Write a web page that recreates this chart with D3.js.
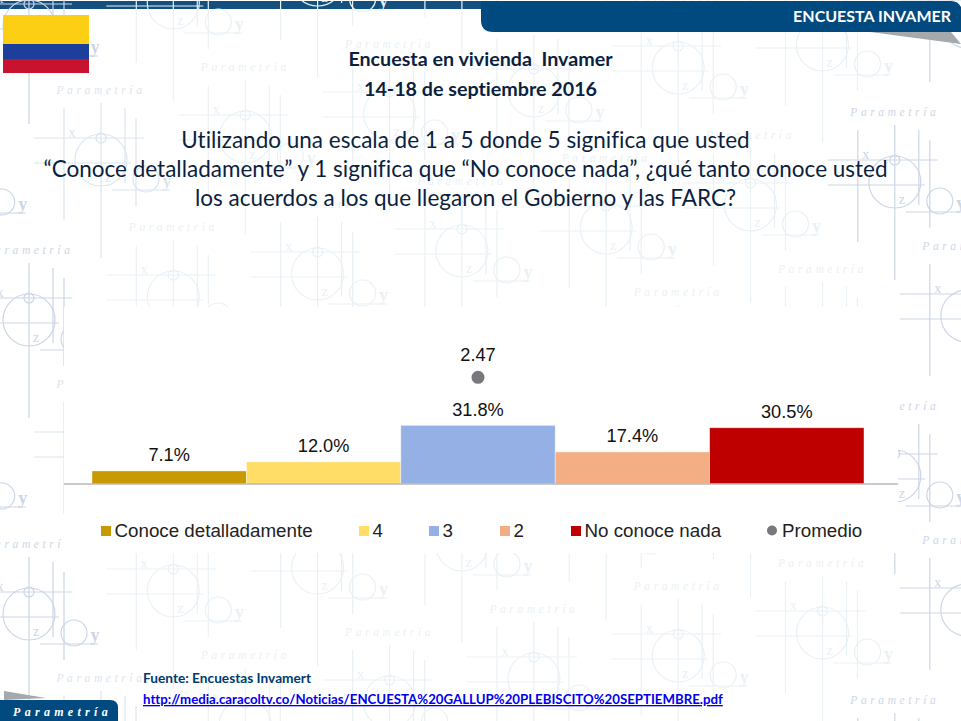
<!DOCTYPE html>
<html>
<head>
<meta charset="utf-8">
<script src="https://cdn.jsdelivr.net/npm/d3@7/dist/d3.min.js"></script>
<style>
html,body{margin:0;padding:0;background:#fff;overflow:hidden}
svg{display:block}
text{font-variant-ligatures:none}
</style>
</head>
<body>
<svg id="c" width="961" height="721" viewBox="0 0 961 721"></svg>
<script>
// Chart data
const categories = ["Conoce detalladamente", "4", "3", "2", "No conoce nada"];
const shares = [7.1, 12.0, 31.8, 17.4, 30.5];
const shareLabels = ["7.1%", "12.0%", "31.8%", "17.4%", "30.5%"];
const barColors = ["#c99a00", "#ffdd66", "#94b0e4", "#f3ae84", "#be0000"];
const meanName = "Promedio";
const meanValue = 2.47;
const meanColor = "#77797c";

// Texts
const titleLines = ["Encuesta en vivienda  Invamer", "14-18 de septiembre 2016"];
const questionLines = [
  "Utilizando una escala de 1 a 5 donde 5 significa que usted",
  "“Conoce detalladamente” y 1 significa que “No conoce nada”, ¿qué tanto conoce usted",
  "los acuerdos a los que llegaron el Gobierno y las FARC?"
];
const sourceLabel = "Fuente: Encuestas Invamert";
const sourceUrl = "http://media.caracoltv.co/Noticias/ENCUESTA%20GALLUP%20PLEBISCITO%20SEPTIEMBRE.pdf";

const svg = d3.select("#c");
const W = 961, H = 721;
const sans = "'Liberation Sans', Arial, sans-serif";
const hum = "Lato, 'Open Sans', sans-serif";
const serif = "'Liberation Serif', 'DejaVu Serif', serif";
const navy = "#004a80";
const panel = {x: 64, y: 307, w: 834, h: 246};

svg.append("rect").attr("width", W).attr("height", H).attr("fill", "#fff");

// top strip
svg.append("rect").attr("x", 0).attr("y", 1).attr("width", 500).attr("height", 8).attr("fill", "#14507f");

// watermark
const inPanel = (x, y) => x > panel.x && x < panel.x + panel.w && y > panel.y && y < panel.y + panel.h;
const onPage = (x, y) => x >= 0 && x <= W && y >= 0 && y <= H;
function motif(g, sx, sy, col) {
  const m = g.append("g").attr("transform", `translate(${sx},${sy})`)
    .attr("fill", "none").attr("stroke", col).attr("stroke-width", 1.2);
  const line = (a, b, c, d) => m.append("line").attr("x1", a).attr("y1", b).attr("x2", c).attr("y2", d);
  m.append("circle").attr("cy", 22).attr("r", 26);
  m.append("circle").attr("r", 5);
  m.append("circle").attr("cx", 45).attr("cy", 41).attr("r", 13);
  line(-67, 0, 43, 0);
  line(-67, 25, 30, 25);
  line(11, 52, 69, 52);
  line(-37, -30, -37, 82);
  line(0, -35, 0, 120);
  line(24, -30, 24, 45);
  line(35, -20, 35, 68);
  const t = (s, x, y, size) => {
    if (!onPage(sx + x, sy + y) || inPanel(sx + x, sy + y)) return null;
    return m.append("text").text(s).attr("x", x).attr("y", y)
      .attr("font-family", serif).attr("font-size", size).attr("fill", col).attr("stroke", "none")
      .attr("text-anchor", "middle");
  };
  t("x", -29, -1, 14);
  t("z", 7, 44, 14);
  const ly = t("y", 66, 49, 18);
  if (ly) ly.attr("font-weight", "bold");
  const ty = sy - 44;
  const visible = sx + 48 > 0 && sx - 48 < W && ty > 0 && ty < H && !(inPanel(sx - 48, ty) && inPanel(sx + 48, ty));
  if (visible) {
    m.append("text").text("Parametría").attr("x", 0).attr("y", -44)
      .attr("font-family", serif).attr("font-size", 11.5).attr("fill", col).attr("stroke", "none")
      .attr("text-anchor", "middle").attr("font-style", "italic").attr("letter-spacing", 3.6);
  }
}
const wm = svg.append("g");
const stepX = 144.3, stepY = -23, rowH = 294;
const dark = "#ccd6e7", mid = "#dce5ef", light = "#eaf1f5";
d3.range(-1, 3).forEach(j => {
  d3.range(0, 7).forEach(i => {
    const edge = i === 0 || i === 6;
    motif(wm, 29 + stepX * i, 298 + stepY * i + rowH * j, edge ? dark : light);
  });
  d3.range(-1, 7).forEach(i => {
    const edge = i === -1 || i === 6;
    motif(wm, 101 + stepX * i, 138 + stepY * i + rowH * j, edge ? dark : i === 0 ? mid : light);
  });
});

// chart panel hiding the watermark
svg.append("rect").attr("x", panel.x).attr("y", panel.y).attr("width", panel.w).attr("height", panel.h).attr("fill", "#fff");

// header tab
svg.append("path").attr("d", "M870,32 L951,32 L961,44 Z").attr("fill", "#a4a9ad");
svg.append("path").attr("d", "M481,1 H951 Q958,1 961,7 V32 H493 Q481,32 481,20 Z").attr("fill", navy);
svg.append("text").text("ENCUESTA INVAMER").attr("x", 951).attr("y", 21.5)
  .attr("text-anchor", "end").attr("font-family", hum).attr("font-weight", 700)
  .attr("font-size", 16).attr("fill", "#fff");

// footer tab
svg.append("path").attr("d", "M4,691 L46,698 L4,700 Z").attr("fill", "#a4a9ad");
svg.append("path").attr("d", "M0,700 H110 Q118,700 118,708 V721 H0 Z").attr("fill", navy);
svg.append("text").text("Parametría").attr("x", 13).attr("y", 716)
  .attr("font-family", serif).attr("font-style", "italic").attr("font-weight", 700)
  .attr("font-size", 12).attr("letter-spacing", 4.3).attr("fill", "#fff");

// flag
[["#fccf15", 15, 29], ["#1c3f9c", 44, 15], ["#c9122e", 59, 14]].forEach(([c, y, h]) =>
  svg.append("rect").attr("x", 3).attr("y", y).attr("width", 86).attr("height", h).attr("fill", c));

// titles
svg.selectAll("text.title").data(titleLines).join("text").attr("class", "title")
  .text(d => d).attr("x", 480.5).attr("y", (d, i) => 65.5 + i * 30.5)
  .attr("xml:space", "preserve").style("white-space", "pre")
  .attr("text-anchor", "middle").attr("font-family", hum).attr("font-weight", 700)
  .attr("font-size", 19.7).attr("fill", "#0b1f3f");

svg.selectAll("text.q").data(questionLines).join("text").attr("class", "q")
  .text(d => d).attr("x", 465.5).attr("y", (d, i) => 148 + i * 29)
  .attr("text-anchor", "middle").attr("font-family", hum)
  .attr("font-size", 22.5).attr("fill", "#0b1f3f");

// chart
const baseY = 484;
const x = d3.scaleBand().domain(categories).range([92, 864]).padding(0);
const y = d3.scaleLinear().domain([0, 100]).range([baseY, baseY - 184.5]);
const yMean = d3.scaleLinear().domain([0, 5]).range([baseY, baseY - 216]);

svg.append("g").selectAll("rect").data(categories).join("rect")
  .attr("x", d => x(d)).attr("width", x.bandwidth())
  .attr("y", (d, i) => y(shares[i])).attr("height", (d, i) => baseY - y(shares[i]))
  .attr("fill", (d, i) => barColors[i])
  .attr("stroke", "#fff").attr("stroke-opacity", 0.55).attr("stroke-width", 0.8);

svg.append("line").attr("x1", 64).attr("x2", 898).attr("y1", baseY).attr("y2", baseY)
  .attr("stroke", "#b9b9b9").attr("stroke-width", 1.4);

svg.append("g").selectAll("text").data(categories).join("text")
  .text((d, i) => shareLabels[i])
  .attr("x", d => x(d) + x.bandwidth() / 2)
  .attr("y", (d, i) => y(shares[i]) - 9.5)
  .attr("text-anchor", "middle").attr("font-family", sans).attr("font-size", 18.2).attr("fill", "#111");

const meanX = x("3") + x.bandwidth() / 2;
svg.append("circle").attr("cx", meanX).attr("cy", yMean(meanValue)).attr("r", 6.5).attr("fill", meanColor);
svg.append("text").text(meanValue.toFixed(2)).attr("x", meanX).attr("y", yMean(meanValue) - 16)
  .attr("text-anchor", "middle").attr("font-family", sans).attr("font-size", 18.2).attr("fill", "#111");

// legend
const legendX = d3.scaleOrdinal().domain([...categories, meanName]).range([101, 359, 429, 500, 571, 767]);
const legendY = 531;
const leg = svg.append("g");
categories.forEach((c, i) => {
  leg.append("rect").attr("x", legendX(c)).attr("y", legendY - 5).attr("width", 10).attr("height", 10).attr("fill", barColors[i]);
  leg.append("text").text(c).attr("x", legendX(c) + 13.5).attr("y", legendY + 6)
    .attr("font-family", sans).attr("font-size", 18.75).attr("fill", "#222");
});
leg.append("circle").attr("cx", legendX(meanName) + 5).attr("cy", legendY - 0.5).attr("r", 5).attr("fill", meanColor);
leg.append("text").text(meanName).attr("x", legendX(meanName) + 15).attr("y", legendY + 6)
  .attr("font-family", sans).attr("font-size", 18.75).attr("fill", "#222");

// source
svg.append("text").text(sourceLabel).attr("x", 143).attr("y", 683)
  .attr("font-family", hum).attr("font-weight", 700).attr("font-size", 13.7).attr("fill", "#003a70");
svg.append("text").text(sourceUrl).attr("x", 143).attr("y", 704)
  .attr("font-family", hum).attr("font-weight", 700).attr("font-size", 13.25).attr("fill", "#0000ee")
  .attr("text-decoration", "underline");
</script>
</body>
</html>
